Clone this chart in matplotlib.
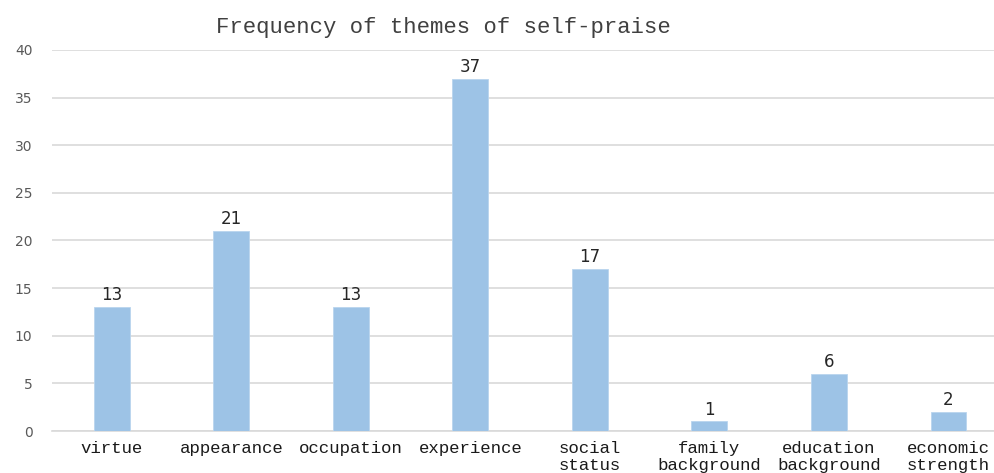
import matplotlib
matplotlib.use("Agg")
import matplotlib.pyplot as plt

categories = ["virtue", "appearance", "occupation", "experience", "social\nstatus",
              "family\nbackground", "education\nbackground", "economic\nstrength"]
counts = [13, 21, 13, 37, 17, 1, 6, 2]
y_ticks = [0, 5, 10, 15, 20, 25, 30, 35, 40]

BAR = "#9dc3e6"
GRID = "#d9d9d9"
TXT = "#595959"
MONO = ["Liberation Mono", "DejaVu Sans Mono"]

fig = plt.figure(figsize=(9.95, 4.73), dpi=100)
ax = fig.add_axes([52 / 995, 1 - 431 / 473, 1 - 52 / 995, (431 - 50) / 473])

x = list(range(len(categories)))
bars = ax.bar(x, counts, width=0.30, color=BAR, edgecolor="#b9d5ee", linewidth=0.6, zorder=3)
for xi, v in zip(x, counts):
    ax.annotate(str(v), (xi, v), xytext=(0, 2), textcoords="offset points",
                ha="center", va="bottom", fontsize=12, color="#262626",
                family="DejaVu Sans")

ax.set_xlim(-0.5, (995 - 112) / 119.5)
ax.set_ylim(0, 40)
ax.set_yticks(y_ticks)
ax.set_yticklabels([str(t) for t in y_ticks], fontsize=10, color=TXT, family="DejaVu Sans")
ax.yaxis.grid(True, color=GRID, linewidth=1.2, zorder=0)
ax.set_axisbelow(True)
ax.tick_params(axis="y", length=0, pad=14)
ax.tick_params(axis="x", length=0, pad=7)
ax.set_xticks(x)
ax.set_xticklabels(categories, family=MONO, fontsize=12.5, color="#1a1a1a", linespacing=1.15)
for s in ["top", "right", "left"]:
    ax.spines[s].set_visible(False)
ax.spines["bottom"].set_color(GRID)
ax.spines["bottom"].set_linewidth(1.2)

fig.text(443 / 995, 1 - 28 / 473, "Frequency of themes of self-praise", ha="center", va="center",
         family=MONO, fontsize=16, color="#404040")

fig.savefig("out.png", dpi=100)
